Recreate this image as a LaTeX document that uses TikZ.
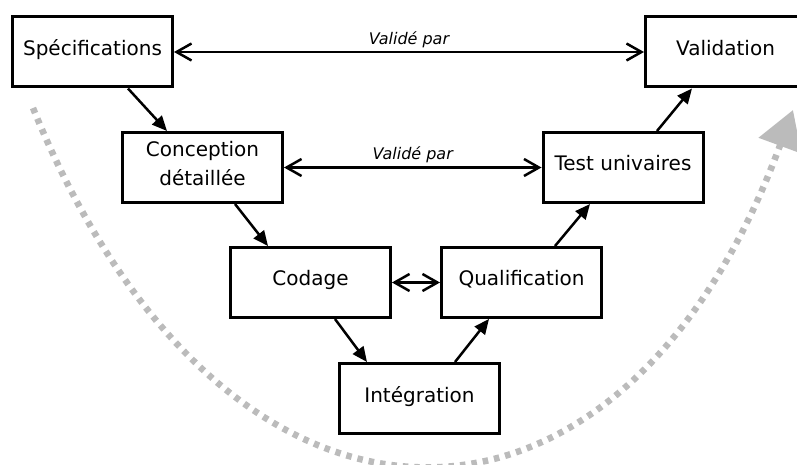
\documentclass[tikz,border=0pt]{standalone}
\usepackage{fontspec}
\setmainfont{DejaVu Sans}
\usetikzlibrary{arrows.meta}
\definecolor{arcgray}{RGB}{187,187,187}

\begin{document}
\begin{tikzpicture}[x=1pt,y=-1pt,
		>={Triangle[length=15pt,width=13pt]},
		etape/.style={draw,line width=3pt,minimum width=160pt,minimum height=70pt,
			align=center,text depth=9pt,font=\fontsize{20}{29}\selectfont},
		lien/.style={line width=2.5pt},
		valide/.style={line width=2.5pt,
			{Straight Barb[length=15pt,width=17pt]}-{Straight Barb[length=15pt,width=17pt]}},
		etiq/.style={font=\fontsize{16}{18}\selectfont\itshape}]
	
	\useasboundingbox (0,0) rectangle (797,465);
	
	% cycle en V
	\coordinate (debut) at (33,108);
	\coordinate (fin) at (793,110);
	\draw[arcgray,line width=6.5pt,dash pattern=on 5.5pt off 6pt,
	-{Triangle[length=38pt,width=44pt]}]
	(debut) .. controls (225,581) and (620,581) .. (fin);
	
	% etapes
	\node[etape] (spec)   at (92.5,52)    {Spécifications};
	\node[etape] (conc)   at (202.5,167.5) {Conception\\détaillée};
	\node[etape] (codage) at (310.5,282.5) {Codage};
	\node[etape] (integ)  at (419.5,398.5) {Intégration};
	\node[etape] (qualif) at (521.5,282.5) {Qualification};
	\node[etape] (test)   at (623,167.5)   {Test univaires};
	\node[etape] (valid)  at (725.5,52)    {Validation};
	
	% branche descendante
	\draw[->,lien] ([xshift=35.5pt]spec.south) -- ([xshift=-35.5pt]conc.north);
	\draw[->,lien] ([xshift=32.5pt]conc.south) -- ([xshift=-42.5pt]codage.north);
	\draw[->,lien] ([xshift=24.5pt]codage.south) -- ([xshift=-52.5pt]integ.north);
	
	% branche montante
	\draw[->,lien] ([xshift=35.5pt]integ.north) -- ([xshift=-32.5pt]qualif.south);
	\draw[->,lien] ([xshift=33.5pt]qualif.north) -- ([xshift=-33pt]test.south);
	\draw[->,lien] ([xshift=34pt]test.north) -- ([xshift=-33.5pt]valid.south);
	
	% validations
	\draw[valide] (spec) -- node[above,etiq] {Validé par} (valid);
	\draw[valide] (conc) -- node[above,etiq] {Validé par} (test);
	\draw[valide] (codage) -- (qualif);
	
\end{tikzpicture}
\end{document}
